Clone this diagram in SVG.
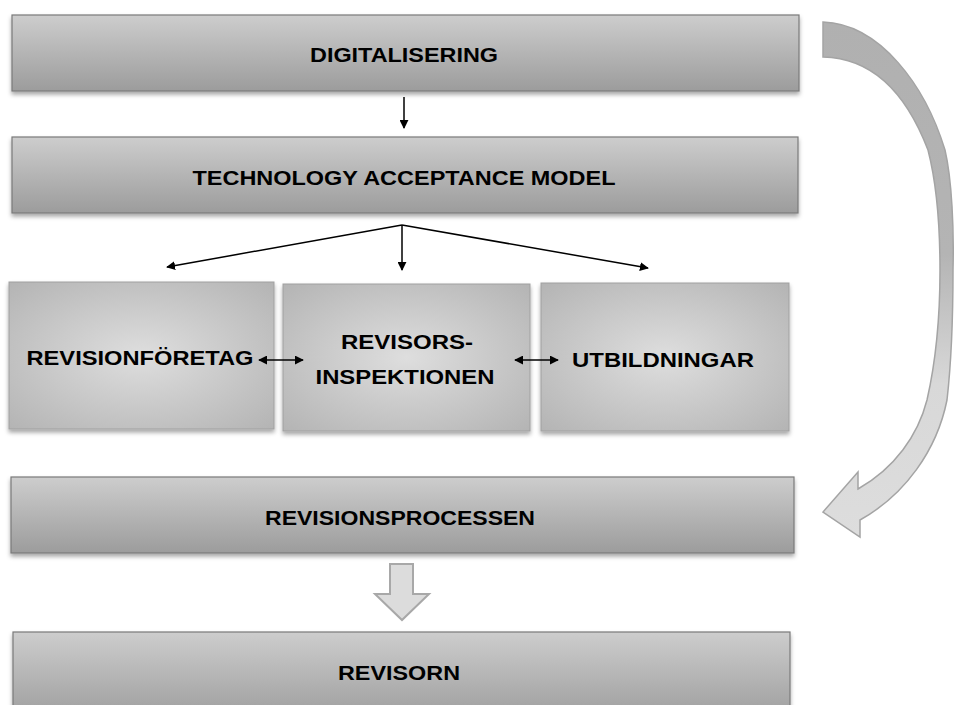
<svg xmlns="http://www.w3.org/2000/svg" width="954" height="705" viewBox="0 0 954 705">
<defs>
<linearGradient id="bar" x1="0" y1="0" x2="0" y2="1">
<stop offset="0" stop-color="#cdcdcd"/>
<stop offset="1" stop-color="#9c9c9c"/>
</linearGradient>
<radialGradient id="sq" cx="0.5" cy="0.5" r="0.7">
<stop offset="0" stop-color="#dedede"/>
<stop offset="1" stop-color="#b4b4b4"/>
</radialGradient>
<linearGradient id="curve" gradientUnits="userSpaceOnUse" x1="0" y1="20" x2="0" y2="540">
<stop offset="0" stop-color="#b0b0b0"/>
<stop offset="0.45" stop-color="#b4b4b4"/>
<stop offset="0.7" stop-color="#d8d8d8"/>
<stop offset="1" stop-color="#dddddd"/>
</linearGradient>
<filter id="sh" x="-5%" y="-20%" width="110%" height="150%">
<feDropShadow dx="0" dy="3" stdDeviation="2" flood-color="#000" flood-opacity="0.35"/>
</filter>
<marker id="ah" viewBox="0 0 10 10" refX="9" refY="5" markerWidth="9" markerHeight="9" markerUnits="userSpaceOnUse" orient="auto-start-reverse">
<path d="M0,0 L10,5 L0,10 z" fill="#000"/>
</marker>
</defs>
<style>
.bar{fill:url(#bar);stroke:#7a7a7a;stroke-width:1.2;filter:url(#sh)}
.sq{fill:url(#sq);stroke:#a0a0a0;stroke-width:1;filter:url(#sh)}
.t{font-family:"Liberation Sans",Arial,sans-serif;font-weight:bold;font-size:21px;fill:#000;text-anchor:middle}
.ln{stroke:#000;stroke-width:1.5;fill:none}
</style>
<g id="n-digitalisering">
<rect class="bar" x="12" y="15" width="787" height="76"/>
<text class="t" x="404" y="62" textLength="188" lengthAdjust="spacingAndGlyphs">DIGITALISERING</text>
</g>
<g id="n-tam">
<rect class="bar" x="12" y="137" width="786" height="76"/>
<text class="t" x="404" y="185" textLength="423" lengthAdjust="spacingAndGlyphs">TECHNOLOGY ACCEPTANCE MODEL</text>
</g>
<g id="n-revisionforetag">
<rect class="sq" x="9" y="282" width="265" height="147"/>
<text class="t" x="140" y="365" textLength="227" lengthAdjust="spacingAndGlyphs">REVISIONFÖRETAG</text>
</g>
<g id="n-revisorsinspektionen">
<rect class="sq" x="283" y="284" width="247" height="147"/>
<text class="t" x="407" y="349" textLength="132" lengthAdjust="spacingAndGlyphs">REVISORS-</text>
<text class="t" x="405" y="384" textLength="179" lengthAdjust="spacingAndGlyphs">INSPEKTIONEN</text>
</g>
<g id="n-utbildningar">
<rect class="sq" x="541" y="283" width="248" height="148"/>
<text class="t" x="663" y="367" textLength="182" lengthAdjust="spacingAndGlyphs">UTBILDNINGAR</text>
</g>
<g id="n-revisionsprocessen">
<rect class="bar" x="11" y="477" width="783" height="76"/>
<text class="t" x="400" y="525" textLength="270" lengthAdjust="spacingAndGlyphs">REVISIONSPROCESSEN</text>
</g>
<g id="n-revisorn">
<rect class="bar" x="13" y="632" width="777" height="90"/>
<text class="t" x="399" y="680" textLength="122" lengthAdjust="spacingAndGlyphs">REVISORN</text>
</g>
<g id="connectors">
<line class="ln" x1="404" y1="97" x2="404" y2="128" marker-end="url(#ah)"/>
<line class="ln" x1="402" y1="225" x2="167" y2="267" marker-end="url(#ah)"/>
<line class="ln" x1="402" y1="225" x2="402" y2="270" marker-end="url(#ah)"/>
<line class="ln" x1="402" y1="225" x2="648" y2="268" marker-end="url(#ah)"/>
<line class="ln" x1="259" y1="360" x2="303" y2="360" marker-start="url(#ah)" marker-end="url(#ah)"/>
<line class="ln" x1="515" y1="360" x2="558" y2="360" marker-start="url(#ah)" marker-end="url(#ah)"/>
<path d="M390,564 L413,564 L413,594 L429,594 L402,620 L375,594 L390,594 Z" fill="#dcdcdc" stroke="#a8a8a8" stroke-width="2" stroke-linejoin="miter"/>
<path d="M823,22 C880,24 925,85 945,150 C952,180 954,230 953,270 C953,320 951,365 947,400 C937,450 905,495 860,520 L860,537 L823,512 L858,472 L858,489 C895,468 918,435 927,400 C935,365 940,320 940,270 C940,225 937,185 928,150 C905,90 870,58 823,57 Z" fill="url(#curve)" stroke="#a4a4a4" stroke-width="1.5" stroke-linejoin="miter"/>
</g>
</svg>
